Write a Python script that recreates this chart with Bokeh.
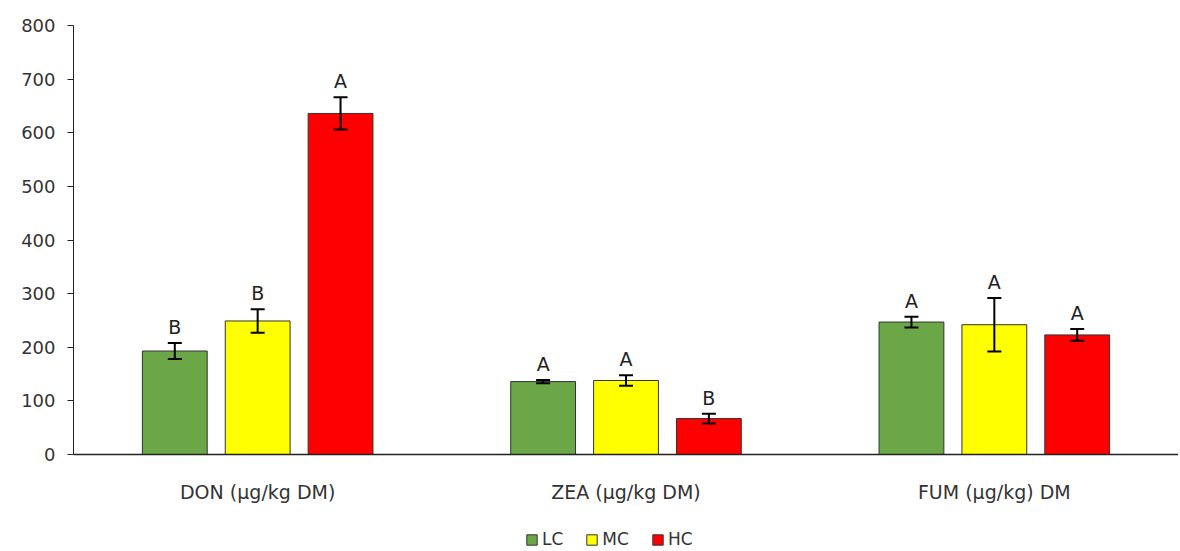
from bokeh.plotting import figure
from bokeh.layouts import column
from bokeh.models import ColumnDataSource, FactorRange, Range1d, Legend, LegendItem, Whisker, SingleIntervalTicker
from bokeh.transform import dodge
from bokeh.core.properties import value
from bokeh.embed import file_html
from bokeh.resources import INLINE

categories = ["DON (µg/kg DM)", "ZEA (µg/kg DM)", "FUM (µg/kg) DM"]
groups = ["LC", "MC", "HC"]
lc_vals = [193, 136, 247]
lc_err = [15, 3, 10]
lc_lett = ["B", "A", "A"]
mc_vals = [249, 138, 242]
mc_err = [22, 10, 50]
mc_lett = ["B", "A", "A"]
hc_vals = [636, 67, 223]
hc_err = [30, 9, 11]
hc_lett = ["A", "B", "A"]
colors = ["#6BA746", "#FFFF00", "#FF0000"]

FONT = "DejaVu Sans"
TXT = "#333333"

p = figure(x_range=FactorRange(*categories), y_range=Range1d(0, 800),
           width=1178, height=505, output_backend="svg", toolbar_location=None,
           min_border_left=73, min_border_right=0, min_border_top=25, min_border_bottom=50)
p.outline_line_color = None
p.xgrid.visible = False
p.ygrid.visible = False

series = [(lc_vals, lc_err, lc_lett), (mc_vals, mc_err, mc_lett), (hc_vals, hc_err, hc_lett)]
offsets = [-0.225, 0.0, 0.225]
for (vals, errs, letts), off, col, g in zip(series, offsets, colors, groups):
    src = ColumnDataSource(dict(cat=categories, val=vals,
                                lo=[v - e for v, e in zip(vals, errs)],
                                hi=[v + e for v, e in zip(vals, errs)],
                                lett=letts))
    p.vbar(x=dodge("cat", off, range=p.x_range), top="val", width=0.176, source=src,
           fill_color=col, line_color="#333333", line_width=1)
    w = Whisker(base=dodge("cat", off, range=p.x_range), lower="lo", upper="hi", source=src,
                line_color="black", line_width=2, level="overlay")
    w.upper_head.line_color = "black"
    w.lower_head.line_color = "black"
    w.upper_head.line_width = 2
    w.lower_head.line_width = 2
    w.upper_head.size = 14
    w.lower_head.size = 14
    p.add_layout(w)
    p.text(x=dodge("cat", off, range=p.x_range), y="hi", text="lett", source=src,
           text_align="center", text_baseline="bottom", y_offset=-5,
           text_font=value(FONT), text_font_size="19px", text_color="#222222")

p.yaxis.ticker = SingleIntervalTicker(interval=100)
p.yaxis.minor_tick_line_color = None
p.yaxis.major_tick_in = 0
p.yaxis.major_tick_out = 6
p.yaxis.axis_line_color = "#222222"
p.yaxis.major_tick_line_color = "#222222"
p.yaxis.major_label_text_font = FONT
p.yaxis.major_label_text_font_size = "18px"
p.yaxis.major_label_text_color = TXT
p.yaxis.major_label_standoff = 12

p.xaxis.axis_line_color = "#222222"
p.xaxis.axis_line_width = 1.5
p.xaxis.major_tick_line_color = None
p.xaxis.minor_tick_line_color = None
p.xaxis.major_label_text_font = FONT
p.xaxis.major_label_text_font_size = "19px"
p.xaxis.major_label_text_color = TXT
p.xaxis.major_label_standoff = 20

# legend in its own strip below the chart (dummy bars sit outside the visible range)
q = figure(width=1178, height=44, x_range=Range1d(0, 1), y_range=Range1d(0, 1),
           output_backend="svg", toolbar_location=None,
           min_border_left=0, min_border_right=0, min_border_top=0, min_border_bottom=0)
q.axis.visible = False
q.grid.visible = False
q.outline_line_color = None
items = []
for col, g in zip(colors, groups):
    r = q.vbar(x=[-5], top=[-5], bottom=[-6], width=0.1, fill_color=col,
               line_color="#333333", line_width=1)
    items.append(LegendItem(label=g, renderers=[r]))
legend = Legend(items=items, orientation="horizontal", location=(452, 0),
                label_text_font=FONT, label_text_font_size="17px", label_text_color=TXT,
                glyph_width=13, glyph_height=13, spacing=22, label_standoff=4,
                border_line_color=None, background_fill_alpha=0, margin=0, padding=2)
q.add_layout(legend, "center")

open("out.html", "w").write(file_html(column(p, q, spacing=0), INLINE))
